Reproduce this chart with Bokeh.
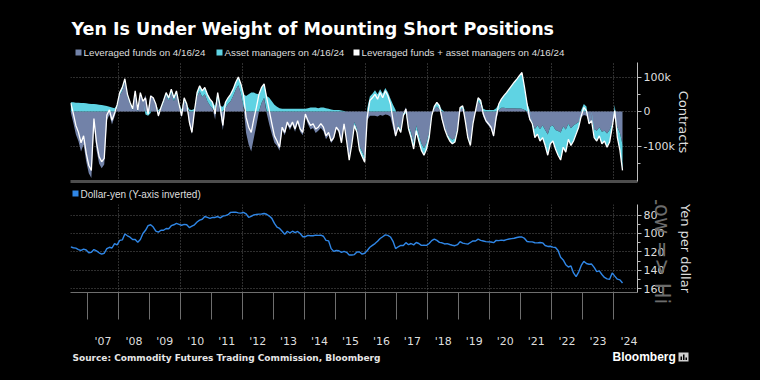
import numpy as np
from bokeh.plotting import figure
from bokeh.models import Range1d, FixedTicker, Label, LinearAxis
from bokeh.layouts import column, row
from bokeh.embed import file_html
from bokeh.resources import INLINE

# ---------------- data (monthly, Jun 2006 .. Apr 2024) ----------------
START_YEAR, START_MONTH = 2006, 6

# Leveraged funds net position, thousand contracts
lev_funds = [
    -2, -32, -66, -86, -115, -95, -144,                       # 2006 Jun-Dec
    -178, -192, -42, -111, -150, -164, -153, -26, -9, -37, -15, 12,   # 2007
    47, 60, 87, 44, 22, 4, 54, 0, 51, 28, 48, 5,              # 2008
    49, 38, 19, -16, 7, 26, 47, 32, 55, 30, 50, 14,           # 2009
    -18, 32, 14, -36, -65, -5, 43, 59, 42, 50, 30, 18,        # 2010
    9, -23, 37, -4, -54, 11, 22, 30, 45, 63, 76, 52,          # 2011
    15, -61, -95, -115, -77, -40, 0, 25, 40, -5, -37, -65,    # 2012
    -90, -99, -113, -53, -68, -38, -53, -38, -58, -34, -58, -68,  # 2013
    -15, -36, -52, -47, -62, -55, -47, -57, -80, -68, -91, -80,   # 2014
    -50, -60, -93, -37, -85, -135, -87, -30, -50, -100, -115, -131,  # 2015
    -26, -12, -12, -12, -14, -10, -12, -8, -10, -15, -46, -75,    # 2016
    -40, -50, -4, 13, -40, -60, -90, -40, -67, -92, -106, -90,    # 2017
    -60, -7, 7, 15, 7, -26, -50, -65, -75, -81, -76, -47,     # 2018
    7, 9, -28, -70, -90, -30, 1, 30, 20, -15, -31, -40,       # 2019
    -50, -75, -26, 4, 11, 11, 10, 10, 10, 10, 9, 9,           # 2020
    8, 5, -3, -26, -30, -50, -40, -50, -40, -53, -66, -43,    # 2021
    -40, -53, -56, -60, -43, -52, -35, -48, -40, -35, -30, -17,   # 2022
    -10, -12, -30, -26, -50, -55, -45, -58, -55, -63, -53, -35,   # 2023
    -17, -45, -62, -95,                                       # 2024 Jan-Apr
]

# Asset managers net position, thousand contracts
asset_mgrs = [
    27, 27, 26, 26, 25, 25, 24,
    23, 22, 22, 21, 20, 19, 18, 16, 14, 12, 10, 8,
    8, 10, 8, 6, 5, 4, 6, 5, 4, 2, -8, -12,
    -4, 2, 3, 4, 5, 6, 8, 8, 10, 10, 10, 8,
    6, 8, 8, 6, 5, 8, 12, 16, 18, 20, 20, 18,
    18, 16, 18, 16, 14, 16, 18, 20, 20, 22, 24, 28,
    35, 45, 50, 55, 55, 52, 50, 45, 40, 45, 40, 30,
    20, 14, 10, 8, 8, 8, 8, 8, 8, 8, 8, 8,
    8, 10, 12, 12, 12, 10, 12, 12, 10, 8, 6, 5,
    5, 5, 3, 2, 0, -5, -8, -10, -10, -12, -15, -15,
    10, 44, 52, 62, 50, 65, 52, 68, 56, 37, 20, 5,
    -5, -10, -8, -5, -10, -15, -18, -15, -18, -20, -20, -18,
    -15, -5, 8, 12, 10, 5, 0, -5, -10, -12, -12, -8,
    5, 8, 2, -5, -8, -5, 2, 10, 12, 8, 5, 5,
    5, 5, 10, 18, 25, 35, 45, 55, 65, 75, 85, 95,
    105, 65, 25, 5, -5, -25, -25, -35, -35, -45, -60, -50,
    -45, -55, -70, -80, -60, -65, -45, -50, -45, -30, -15, 5,
    22, 15, -5, 0, -25, -30, -25, -35, -30, -40, -35, -10,
    20, -30, -50, -75,
]

# Dollar-yen, yen per dollar
usdjpy = [
    114.5, 115.5, 116.0, 117.5, 118.5, 117.0, 118.0,
    121.0, 120.5, 117.5, 119.0, 121.0, 122.5, 121.5, 116.5, 115.0, 115.8, 111.0, 112.5,
    107.5, 107.0, 100.5, 102.5, 104.0, 106.5, 106.5, 109.5, 106.5, 100.0, 96.5, 91.5,
    90.5, 93.0, 97.5, 98.5, 96.5, 96.5, 94.5, 94.8, 91.5, 90.5, 89.0, 90.0,
    91.0, 90.0, 90.5, 93.5, 92.0, 90.5, 87.5, 85.5, 84.5, 81.5, 82.5, 83.5,
    82.5, 82.5, 81.5, 83.0, 81.0, 80.5, 79.5, 77.0, 76.8, 76.7, 77.5, 77.8,
    76.9, 78.5, 82.5, 81.3, 79.7, 79.3, 78.9, 78.7, 78.2, 79.0, 81.0, 83.5,
    89.0, 93.0, 94.5, 97.5, 101.0, 97.5, 99.5, 97.5, 99.0, 97.8, 100.0, 103.5,
    103.5, 102.0, 102.5, 102.5, 101.8, 102.0, 101.8, 103.0, 107.5, 108.0, 116.5, 119.5,
    118.5, 118.8, 120.5, 119.5, 120.5, 123.5, 123.5, 123.0, 120.2, 120.1, 122.5, 121.5,
    118.5, 115.0, 113.0, 111.0, 108.5, 105.5, 103.5, 101.5, 102.0, 103.8, 108.5, 116.5,
    114.5, 113.0, 113.0, 110.0, 112.2, 110.9, 112.4, 109.8, 110.9, 113.0, 112.8, 112.9,
    110.9, 107.8, 106.1, 107.5, 109.7, 110.1, 111.4, 111.0, 112.0, 112.8, 113.3, 112.2,
    108.9, 110.5, 111.1, 111.6, 109.8, 108.1, 108.2, 106.2, 107.5, 108.2, 108.9, 109.1,
    109.3, 110.0, 107.5, 107.8, 107.2, 107.6, 106.7, 106.0, 105.6, 105.2, 104.4, 103.8,
    103.8, 105.4, 108.7, 109.1, 109.1, 110.1, 110.2, 109.8, 110.2, 113.1, 114.1, 113.9,
    114.8, 115.2, 118.5, 126.0, 128.8, 134.0, 136.5, 135.3, 143.0, 147.0, 142.0, 134.8,
    130.3, 132.7, 133.5, 133.3, 137.0, 141.5, 140.8, 144.7, 147.9, 149.5, 149.8, 143.0,
    146.5, 149.8, 150.5, 154.0,
]

label_years = list(range(2007, 2025))
year_labels = ["'%02d" % (y % 100) for y in label_years]
contract_ticks = [-100, 0, 100]
contract_tick_labels = ["-100k", "0", "100k"]
yen_ticks = [80, 100, 120, 140, 160]

TITLE = "Yen Is Under Weight of Mounting Short Positions"
LEGEND_TOP = ["Leveraged funds on 4/16/24", "Asset managers on 4/16/24",
              "Leveraged funds + asset managers on 4/16/24"]
LEGEND_BOTTOM = "Dollar-yen (Y-axis inverted)"
SOURCE = "Source: Commodity Futures Trading Commission, Bloomberg"

# ---------------- derived ----------------
n = len(lev_funds)
x = np.array([START_YEAR + (START_MONTH - 1 + i + 0.5) / 12.0 for i in range(n)])
lf = np.array(lev_funds, dtype=float)
am = np.array(asset_mgrs, dtype=float)
base = np.where(am >= 0, np.maximum(lf, 0), np.minimum(lf, 0))
total = lf + am
jpy = np.array(usdjpy, dtype=float)

SLATE = "#7282a8"
CYAN = "#5fd3e3"
BLUE = "#2f86e6"
GRID = "#5c5c5c"
AXIS = "#bdbdbd"
TXT = "#dedede"
FONT = "DejaVu Sans"
LFONT = "Liberation Sans"
W = 760
BL, BR = 70, 123          # frame from x=70 to x=637
BLACK = {"background-color": "black"}

xr = Range1d(2006.451, 2024.776)
even_years = list(range(2008, 2025, 2))


def style_common(p):
    p.background_fill_color = "black"
    p.border_fill_color = "black"
    p.outline_line_color = None


def blank_fig(h, x0, x1, bl, br):
    f = figure(width=W, height=h, x_range=Range1d(x0, x1), y_range=Range1d(h, 0),
               output_backend="svg", toolbar_location=None,
               x_axis_location=None, y_axis_location=None,
               min_border_left=bl, min_border_right=br, min_border_top=0, min_border_bottom=0,
               styles=BLACK)
    f.grid.visible = False
    style_common(f)
    return f


def txt(f, x0, y0, text, size, color=TXT, bold=False, font=FONT):
    f.add_layout(Label(x=x0, y=y0, text=text, text_font=font, text_font_size=size,
                       text_font_style="bold" if bold else "normal", text_color=color,
                       text_baseline="middle"))


# ---------------- header (title + legend) ----------------
hdr = blank_fig(60, BL, W - BR, BL, BR)
txt(hdr, 71, 28.5, TITLE, "17.5px", color="white", bold=True)
sq_x = [75, 216, 353]
tx_x = [83, 224, 361]
cols = [SLATE, CYAN, "white"]
hdr.quad(left=sq_x, right=[v + 6 for v in sq_x], top=[49] * 3, bottom=[55] * 3,
         fill_color=cols, line_color=None)
for tx, t in zip(tx_x, LEGEND_TOP):
    txt(hdr, tx, 52, t, "9.8px", font=LFONT)

# ---------------- top panel ----------------
p1 = figure(width=W, height=125, x_range=xr, y_range=Range1d(-202, 142),
            output_backend="svg", toolbar_location=None,
            x_axis_location="below", y_axis_location="right",
            min_border_left=BL, min_border_right=BR, min_border_top=2, min_border_bottom=4,
            styles=BLACK)
style_common(p1)
p1.xgrid.ticker = FixedTicker(ticks=even_years)
p1.ygrid.ticker = FixedTicker(ticks=contract_ticks)
for g in (p1.xgrid[0], p1.ygrid[0]):
    g.grid_line_color = GRID
    g.grid_line_dash = "1 2"
    g.grid_line_width = 1

p1.varea(x=x, y1=np.zeros(n), y2=lf, fill_color=SLATE)
p1.varea(x=x, y1=base, y2=base + am, fill_color=CYAN)
p1.line(x, total, line_color="white", line_width=1.3)

# separator bar = bottom axis line of the top panel
sep = p1.xaxis[0]
sep.ticker = FixedTicker(ticks=[])
sep.axis_line_color = "#4d4d4d"
sep.axis_line_width = 3
sep.major_tick_line_color = None
sep.minor_tick_line_color = None
sep.major_label_text_font_size = "0px"
sep.major_label_standoff = 0

ya = p1.yaxis[0]
ya.ticker = FixedTicker(ticks=contract_ticks, minor_ticks=[-150, -50, 50])
ya.major_label_overrides = {t: s for t, s in zip(contract_ticks, contract_tick_labels)}
ya.axis_label = "Contracts"

# ---------------- spacer (bottom legend) ----------------
spc = blank_fig(15, BL, W - BR, BL, BR)
spc.quad(left=[72], right=[78], top=[5], bottom=[11], fill_color=BLUE, line_color=None)
txt(spc, 80, 8.5, LEGEND_BOTTOM, "10px", font=LFONT)

# ---------------- bottom panel ----------------
p2 = figure(width=W, height=150, x_range=xr, y_range=Range1d(164.3, 68.4),
            output_backend="svg", toolbar_location=None,
            x_axis_location="below", y_axis_location="right",
            min_border_left=BL, min_border_right=BR, min_border_top=4, min_border_bottom=28,
            styles=BLACK)
style_common(p2)
p2.xgrid.ticker = FixedTicker(ticks=even_years)
p2.ygrid.ticker = FixedTicker(ticks=yen_ticks)
for g in (p2.xgrid[0], p2.ygrid[0]):
    g.grid_line_color = GRID
    g.grid_line_dash = "1 2"
    g.grid_line_width = 1

p2.line(x, jpy, line_color=BLUE, line_width=1.4)

yb = p2.yaxis[0]
yb.ticker = FixedTicker(ticks=yen_ticks, minor_ticks=[90, 110, 130, 150])
yb.axis_label = "Low => Hi"

for ax, st in ((ya, -2), (yb, -17)):
    ax.axis_line_color = AXIS
    ax.major_tick_line_color = AXIS
    ax.minor_tick_line_color = AXIS
    ax.major_tick_out = 4
    ax.major_tick_in = 0
    ax.minor_tick_out = 3
    ax.minor_tick_in = 0
    ax.major_label_standoff = 2
    ax.major_label_text_font = FONT
    ax.major_label_text_font_size = "11px"
    ax.major_label_text_color = TXT
    ax.axis_label_text_font = FONT
    ax.axis_label_text_font_size = "13px"
    ax.axis_label_text_font_style = "normal"
    ax.axis_label_text_color = TXT
    ax.axis_label_standoff = st

yb.axis_label_text_font_size = "21px"
yb.axis_label_text_color = "#6c6c6c"
yb.axis_label_text_alpha = 1.0

yb2 = LinearAxis(ticker=FixedTicker(ticks=[]), axis_label="Yen per dollar",
                 axis_line_color=None, major_tick_line_color=None, minor_tick_line_color=None,
                 major_label_text_font_size="0px", major_label_standoff=0,
                 axis_label_standoff=0, axis_label_text_font=FONT,
                 axis_label_text_font_size="13px", axis_label_text_font_style="normal",
                 axis_label_text_color=TXT)
p2.add_layout(yb2, "right")

xa = p2.xaxis[0]
mid = [y + 0.5 for y in label_years]
xa.ticker = FixedTicker(ticks=mid, minor_ticks=label_years)
xa.major_label_overrides = {m: s for m, s in zip(mid, year_labels)}
xa.axis_line_color = "#6e6e6e"
xa.major_tick_line_color = None
xa.major_tick_out = 0
xa.major_tick_in = 0
xa.minor_tick_line_color = "#6e6e6e"
xa.minor_tick_out = 27
xa.minor_tick_in = 0
xa.major_label_standoff = 15
xa.major_label_text_font = FONT
xa.major_label_text_font_size = "11px"
xa.major_label_text_color = TXT

# ---------------- footer (source + logo), full-width frame ----------------
ftr = blank_fig(30, 0, W, 0, 0)
txt(ftr, 72, 7, SOURCE, "9px", color="#e6e6e6", bold=True)
txt(ftr, 612, 6.5, "Bloomberg", "12px", color="white", bold=True, font=LFONT)
ftr.quad(left=[678], right=[688], top=[2], bottom=[11], fill_color="#d0d0d0", line_color=None)
ftr.quad(left=[680, 682.5, 685], right=[681.5, 684, 686.5], top=[6, 4, 7], bottom=[9.5, 9.5, 9.5],
         fill_color="#000000", line_color=None)

layout = column(hdr, p1, spc, p2, row(ftr, styles=BLACK), styles=BLACK)
html = file_html(layout, INLINE)
html = html.replace("</head>", "<style>html,body{background:#000 !important;}</style></head>", 1)
open("out.html", "w").write(html)
